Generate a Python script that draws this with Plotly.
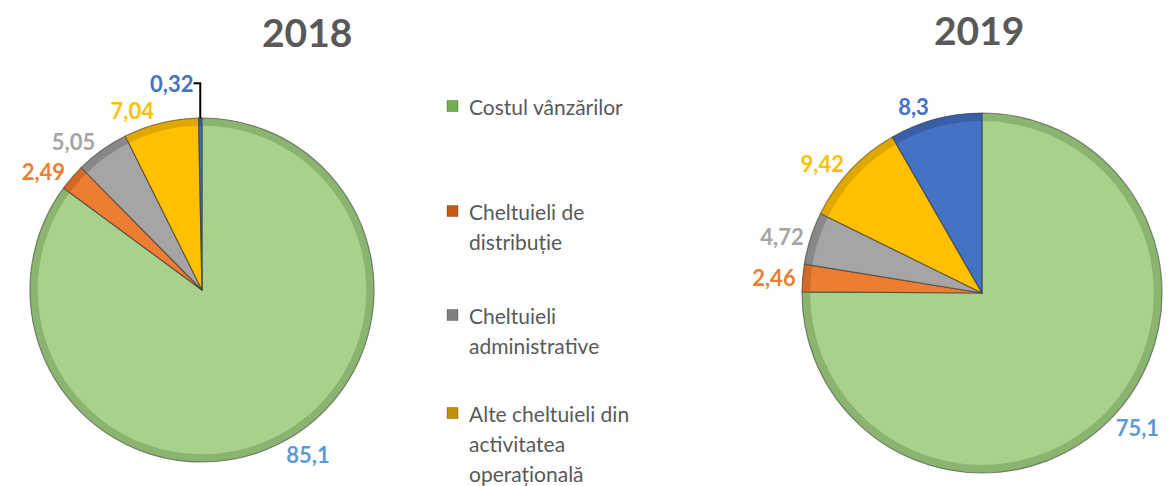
import plotly.graph_objects as go

# ---- data ----
categories = [
    "Costul vânzărilor",
    "Cheltuieli de distribuție",
    "Cheltuieli administrative",
    "Alte cheltuieli din activitatea operațională",
    "Cheltuieli financiare",
]
values_2018 = [85.1, 2.49, 5.05, 7.04, 0.32]
values_2019 = [75.1, 2.46, 4.72, 9.42, 8.3]
years = ["2018", "2019"]
legend_lines = [
    ["Costul vânzărilor"],
    ["Cheltuieli de", "distribuție"],
    ["Cheltuieli", "administrative"],
    ["Alte cheltuieli din", "activitatea", "operațională"],
]

# ---- styles ----
slice_colors = ["#A9D18E", "#ED7D31", "#A5A5A5", "#FFC000", "#4472C4"]
rim_colors = ["#5E8A45", "#A94E17", "#5F5F5F", "#B38400", "#24427A"]
label_colors = ["#5B9BD5", "#ED7D31", "#A5A5A5", "#FFC000", "#4472C4"]
legend_marker_colors = ["#6FAF4F", "#C55A11", "#7F7F7F", "#BF9000"]
W, H = 1174, 486
FONT = "Lato"

fig = go.Figure()

# pie geometry in pixels (centre x, centre y from top, radius)
pies = [(202, 290, 172), (982, 293, 180)]
for vals, (cx, cy, r), yr in zip([values_2018, values_2019], pies, years):
    dom = dict(
        x=[(cx - r) / W, (cx + r) / W],
        y=[(H - cy - r) / H, (H - cy + r) / H],
    )
    fig.add_trace(go.Pie(
        labels=categories,
        values=vals,
        sort=False,
        direction="clockwise",
        rotation=0,
        marker=dict(colors=slice_colors, line=dict(color="rgba(40,40,40,0.55)", width=1.2)),
        texttemplate="%{value}",
        textposition="outside",
        textfont=dict(family=FONT, size=22, color=label_colors, weight="bold"),
        outsidetextfont=dict(family=FONT, size=22, color=label_colors, weight="bold"),
        hoverinfo="label+value",
        showlegend=False,
        automargin=False,
        domain=dom,
        name=yr,
    ))
    # subtle darker bevel rim
    fig.add_trace(go.Pie(
        labels=categories,
        values=vals,
        sort=False,
        direction="clockwise",
        rotation=0,
        hole=0.955,
        marker=dict(colors=rim_colors, line=dict(width=0)),
        opacity=0.4,
        textinfo="none",
        hoverinfo="skip",
        showlegend=False,
        automargin=False,
        domain=dom,
        name=yr + " rim",
    ))

annotations = []
# titles
for yr, tx, ty in zip(years, [307, 979], [32, 30]):
    annotations.append(dict(
        text=f"<b>{yr}</b>", x=tx / W, y=1 - ty / H, xref="paper", yref="paper",
        xanchor="center", yanchor="middle", showarrow=False,
        font=dict(family=FONT, size=39, color="#595959"),
    ))

# manual legend
shapes = []
legend_y = [106, 211, 315, 413]
line_gap = 30
for lines, ly, mc in zip(legend_lines, legend_y, legend_marker_colors):
    shapes.append(dict(
        type="rect", xref="paper", yref="paper",
        x0=447 / W, x1=458 / W, y0=1 - (ly + 5.5) / H, y1=1 - (ly - 5.5) / H,
        fillcolor=mc, line=dict(color="rgba(0,0,0,0.4)", width=0.6),
    ))
    for i, t in enumerate(lines):
        annotations.append(dict(
            text=t, x=467 / W, y=1 - (ly + i * line_gap) / H, xref="paper", yref="paper",
            xanchor="left", yanchor="middle", showarrow=False,
            font=dict(family=FONT, size=21, color="#595959"),
        ))

fig.update_layout(
    width=W, height=H,
    margin=dict(l=0, r=0, t=0, b=0),
    paper_bgcolor="white",
    plot_bgcolor="white",
    separators=", ",
    annotations=annotations,
    shapes=shapes,
    showlegend=False,
)

fig.write_html(
    "out.html",
    config={"displayModeBar": False},
    post_script="document.body.style.margin='0';document.body.style.overflow='hidden';",
)
